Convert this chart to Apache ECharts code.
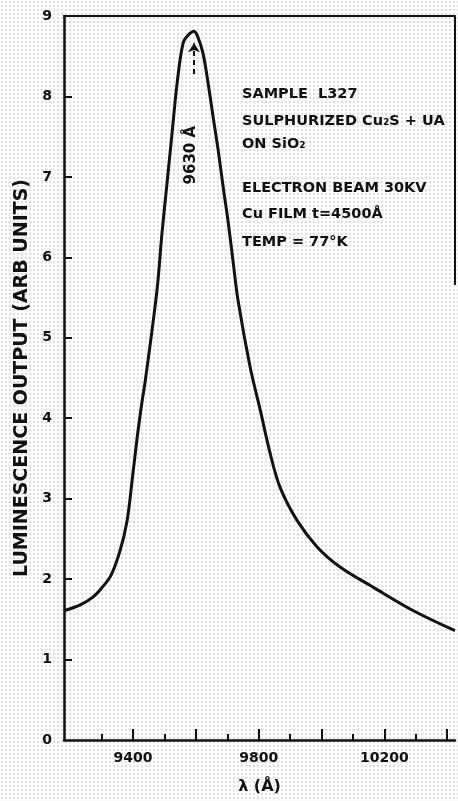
<!DOCTYPE html>
<html>
<head>
<meta charset="utf-8">
<script src="https://cdn.jsdelivr.net/npm/echarts@6/dist/echarts.min.js"></script>
<style>
  html, body { margin: 0; padding: 0; }
  #chart {
    width: 458px; height: 801px;
    background-color: #fbfbfb;
    background-image: radial-gradient(circle, #b4b4b4 0.55px, transparent 0.8px);
    background-size: 4px 4px;
  }
</style>
</head>
<body>
<div id="chart"></div>
<script>
// Wavelength (Å) and luminescence output (arb. units)
const wavelength = [9182, 9232, 9273, 9300, 9330, 9359, 9381, 9397, 9413, 9429, 9439, 9476, 9492, 9508, 9524, 9540, 9559, 9575, 9594, 9608, 9623, 9639, 9655, 9671, 9687, 9702, 9718, 9734, 9773, 9805, 9836, 9868, 9922, 9986, 10059, 10164, 10291, 10425];
const luminescence = [1.61, 1.68, 1.78, 1.89, 2.05, 2.36, 2.73, 3.23, 3.76, 4.22, 4.47, 5.59, 6.30, 6.92, 7.54, 8.16, 8.66, 8.76, 8.81, 8.72, 8.53, 8.16, 7.74, 7.33, 6.87, 6.46, 5.96, 5.47, 4.63, 4.10, 3.57, 3.14, 2.73, 2.40, 2.15, 1.90, 1.61, 1.36];

const xMajorTicks = [9400, 9600, 9800, 10000, 10200, 10400];
const xMinorTicks = [9300, 9500, 9700, 9900, 10100, 10300];
const xTickLabels = [9400, 9800, 10200];
const yTicks = [0, 1, 2, 3, 4, 5, 6, 7, 8, 9];

const peakLabel = '9630 Å';
const peakArrow = { x: 9594, from: 8.28, to: 8.66 };
const peakLabelPos = [9585, 7.27];

const infoLines = [
  'SAMPLE  L327',
  'SULPHURIZED Cu₂S + UA',
  'ON SiO₂',
  'ELECTRON BEAM 30KV',
  'Cu FILM t=4500Å',
  'TEMP = 77°K'
];
const infoY = [94, 121, 144, 188, 214, 242];

const ink = '#111';
const font = 'DejaVu Sans';

const chart = echarts.init(document.getElementById('chart'), null, { renderer: 'canvas' });

const graphics = infoLines.map((t, i) => ({
  type: 'text', x: 242, y: infoY[i], silent: true,
  style: { text: t, fontSize: 14.5, fontWeight: 'bold', fontFamily: font, fill: ink, verticalAlign: 'middle' }
}));
graphics.push({
  type: 'line', silent: true,
  shape: { x1: 455, y1: 16, x2: 455, y2: 285 },
  style: { stroke: ink, lineWidth: 2 }
});

chart.setOption({
  backgroundColor: 'transparent',
  animation: false,
  grid: { left: 64, right: 3, top: 16, bottom: 61, containLabel: false },
  xAxis: [
    {
      type: 'value', min: 9180, max: 10425, position: 'bottom',
      axisLine: { lineStyle: { color: ink, width: 2.5 } },
      axisTick: { inside: true, length: 11, customValues: xMajorTicks, lineStyle: { color: ink, width: 2 } },
      axisLabel: { customValues: xTickLabels, formatter: v => String(v), margin: 11, fontSize: 14, fontWeight: 'bold', fontFamily: font, color: ink },
      splitLine: { show: false },
      name: 'λ (Å)', nameLocation: 'middle', nameGap: 39,
      nameTextStyle: { fontSize: 16, fontWeight: 'bold', fontFamily: font, color: ink }
    },
    {
      type: 'value', min: 9180, max: 10425, position: 'bottom',
      axisLine: { show: false },
      axisTick: { inside: true, length: 6, customValues: xMinorTicks, lineStyle: { color: ink, width: 2 } },
      axisLabel: { show: false },
      splitLine: { show: false }
    },
    {
      type: 'value', min: 9180, max: 10425, position: 'top',
      axisLine: { lineStyle: { color: ink, width: 2 } },
      axisTick: { show: false }, axisLabel: { show: false }, splitLine: { show: false }
    }
  ],
  yAxis: {
    type: 'value', min: 0, max: 9, interval: 1,
    axisLine: { show: true, lineStyle: { color: ink, width: 2.5 } },
    axisTick: { show: true, inside: true, length: 8, customValues: yTicks.slice(1, 9), lineStyle: { color: ink, width: 2 } },
    axisLabel: { customValues: yTicks, margin: 12, fontSize: 14, fontWeight: 'bold', fontFamily: font, color: ink },
    splitLine: { show: false },
    name: 'LUMINESCENCE OUTPUT (ARB UNITS)', nameLocation: 'middle', nameGap: 28, nameRotate: 90,
    nameTextStyle: { fontSize: 19, fontWeight: 'bold', fontFamily: font, color: ink }
  },
  graphic: graphics,
  series: [{
    type: 'line',
    xAxisIndex: 0,
    data: wavelength.map((w, i) => [w, luminescence[i]]),
    symbol: 'none',
    smooth: 0.35,
    lineStyle: { color: ink, width: 3 },
    markLine: {
      silent: true, symbol: ['none', 'arrow'], symbolSize: 9,
      label: { show: false },
      lineStyle: { color: ink, width: 2, type: [5, 4] },
      data: [[{ coord: [peakArrow.x, peakArrow.from] }, { coord: [peakArrow.x, peakArrow.to] }]]
    },
    markPoint: {
      silent: true, symbol: 'circle', symbolSize: 1,
      itemStyle: { color: 'transparent' },
      label: { show: true, position: 'inside', formatter: peakLabel, rotate: 90, fontSize: 15, fontWeight: 'bold', fontFamily: font, color: ink },
      data: [{ coord: peakLabelPos }]
    }
  }]
});
</script>
</body>
</html>
